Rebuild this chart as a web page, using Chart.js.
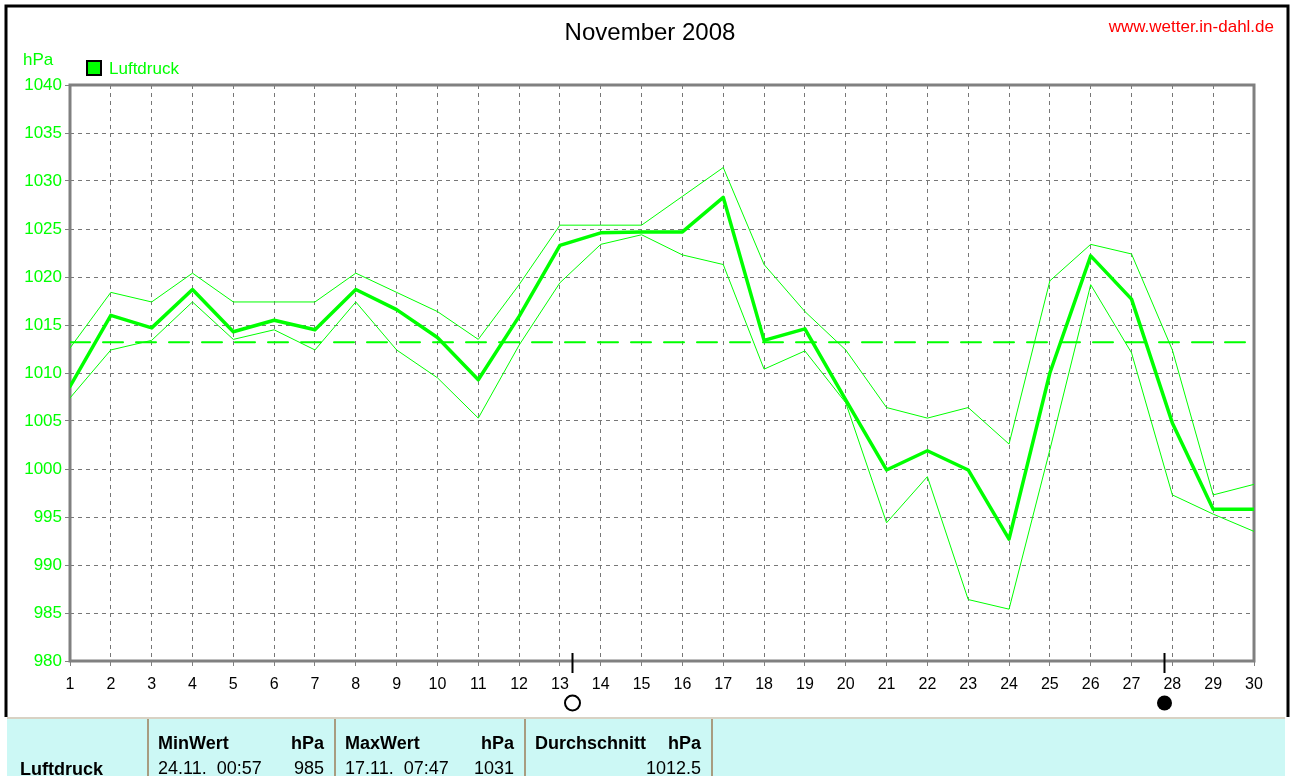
<!DOCTYPE html>
<html>
<head>
<meta charset="utf-8">
<title>Luftdruck November 2008</title>
<script src="https://cdn.jsdelivr.net/npm/chart.js@4.4.1/dist/chart.umd.min.js"></script>
<style>
html, body { margin: 0; padding: 0; background: #fff; }
canvas { display: block; }
</style>
</head>
<body>
<canvas id="myChart" width="1293" height="776"></canvas>
<script>
// Tage im November 2008
var days = [1, 2, 3, 4, 5, 6, 7, 8, 9, 10, 11, 12, 13, 14, 15, 16, 17, 18, 19, 20, 21, 22, 23, 24, 25, 26, 27, 28, 29, 30];
// Tagesmittel, Tagesmaximum, Tagesminimum (hPa)
var meanValues = [1008.6, 1016.0, 1014.7, 1018.7, 1014.3, 1015.5, 1014.5, 1018.7, 1016.6, 1013.7, 1009.3, 1015.9, 1023.3, 1024.6, 1024.7, 1024.7, 1028.3, 1013.4, 1014.6, 1007.2, 999.9, 1001.9, 999.9, 992.7, 1010.0, 1022.2, 1017.7, 1004.8, 995.8, 995.8];
var maxValues = [1012.6, 1018.4, 1017.4, 1020.4, 1017.4, 1017.4, 1017.4, 1020.4, 1018.4, 1016.4, 1013.5, 1019.2, 1025.4, 1025.4, 1025.4, 1028.4, 1031.4, 1021.3, 1016.4, 1012.4, 1006.4, 1005.3, 1006.4, 1002.6, 1019.6, 1023.4, 1022.4, 1012.4, 997.3, 998.4];
var minValues = [1007.4, 1012.4, 1013.4, 1017.4, 1013.5, 1014.5, 1012.4, 1017.4, 1012.4, 1009.5, 1005.3, 1012.9, 1019.4, 1023.4, 1024.4, 1022.3, 1021.3, 1010.4, 1012.3, 1006.9, 994.4, 999.2, 986.4, 985.4, 1002.0, 1019.2, 1012.1, 997.3, 995.3, 993.5];
var avgLevel = 1013.2;
// Mondphasen (Tag mit Bruchteil)
var moonDays = [13.3, 27.8];
var moonTypes = ["voll", "neu"];
// Y-Achse
var yMin = 980, yMax = 1040, yStep = 5;
// Statistik-Tabelle
var statHead = ["MinWert", "MaxWert", "Durchschnitt"];
var statWhen = ["24.11.  00:57", "17.11.  07:47", ""];
var statVal = ["985", "1031", "1012.5"];

var green = "#00ff00";
var gray = "#808080";
var fnt = "'Liberation Sans', Arial, sans-serif";

function pts(arr) {
    return arr.map(function (v, i) { return { x: days[i], y: v }; });
}

var decoPlugin = {
    id: "deco",
    beforeDatasetsDraw: function (chart) {
        var ctx = chart.ctx, a = chart.chartArea;
        ctx.save();
        ctx.strokeStyle = gray;
        ctx.lineWidth = 3;
        ctx.strokeRect(a.left, a.top, a.right - a.left, a.bottom - a.top);
        ctx.restore();
    },
    afterDraw: function (chart) {
        var ctx = chart.ctx, a = chart.chartArea;
        var xs = chart.scales.x;
        ctx.save();

        // Rahmen
        ctx.strokeStyle = "#000";
        ctx.lineWidth = 3;
        ctx.beginPath();
        ctx.moveTo(6, 717);
        ctx.lineTo(6, 6);
        ctx.lineTo(1288, 6);
        ctx.lineTo(1288, 717);
        ctx.stroke();

        // Titel
        ctx.fillStyle = "#000";
        ctx.font = "24px " + fnt;
        ctx.textAlign = "center";
        ctx.textBaseline = "alphabetic";
        ctx.fillText("November 2008", 650, 40);

        ctx.fillStyle = "#ff0000";
        ctx.font = "17px " + fnt;
        ctx.textAlign = "right";
        ctx.fillText("www.wetter.in-dahl.de", 1274, 32);

        // Einheit und Legende
        ctx.fillStyle = green;
        ctx.textAlign = "left";
        ctx.fillText("hPa", 23, 65);
        ctx.fillText("Luftdruck", 109, 74);
        ctx.fillRect(87, 61, 14, 14);
        ctx.strokeStyle = "#000";
        ctx.lineWidth = 2;
        ctx.strokeRect(87, 61, 14, 14);

        // Mondphasen
        for (var i = 0; i < moonDays.length; i++) {
            var mx = Math.round(xs.getPixelForValue(moonDays[i])) + 0.5;
            ctx.strokeStyle = "#000";
            ctx.lineWidth = 2;
            ctx.beginPath();
            ctx.moveTo(mx, a.bottom - 8);
            ctx.lineTo(mx, a.bottom + 12);
            ctx.stroke();
            ctx.beginPath();
            ctx.arc(mx, a.bottom + 42, 7.5, 0, Math.PI * 2);
            if (moonTypes[i] == "neu") {
                ctx.fillStyle = "#000";
                ctx.fill();
            } else {
                ctx.stroke();
            }
        }

        // Tabelle
        ctx.fillStyle = "#ccf8f5";
        ctx.fillRect(7, 718, 1278, 58);
        ctx.fillStyle = "#d8d2c4";
        ctx.fillRect(7, 717, 1278, 2);
        var seps = [148, 335, 525, 712];
        ctx.fillStyle = "#a89c80";
        seps.forEach(function (sx) { ctx.fillRect(sx - 1, 719, 2, 57); });

        ctx.fillStyle = "#000";
        ctx.font = "bold 18px " + fnt;
        ctx.textAlign = "left";
        ctx.fillText("Luftdruck", 20, 775);
        for (var j = 0; j < statHead.length; j++) {
            var lx = seps[j] + 10, rx = seps[j + 1] - 11;
            ctx.font = "bold 18px " + fnt;
            ctx.textAlign = "left";
            ctx.fillText(statHead[j], lx, 749);
            ctx.textAlign = "right";
            ctx.fillText("hPa", rx, 749);
            ctx.font = "18px " + fnt;
            ctx.textAlign = "left";
            ctx.fillText(statWhen[j], lx, 774);
            ctx.textAlign = "right";
            ctx.fillText(statVal[j], rx, 774);
        }
        ctx.restore();
    }
};

new Chart("myChart", {
    type: "line",
    data: {
        datasets: [{
            data: [{ x: days[0], y: avgLevel }, { x: days[days.length - 1], y: avgLevel }],
            borderColor: green,
            borderWidth: 2,
            borderDash: [20, 13]
        }, {
            data: pts(minValues),
            borderColor: green,
            borderWidth: 1
        }, {
            data: pts(maxValues),
            borderColor: green,
            borderWidth: 1
        }, {
            data: pts(meanValues),
            borderColor: green,
            borderWidth: 3.5
        }]
    },
    options: {
        responsive: false,
        animation: false,
        events: [],
        layout: { padding: { top: 85, right: 39, left: 0, bottom: 0 } },
        elements: {
            point: { radius: 0 },
            line: { tension: 0, fill: false, borderCapStyle: "round", borderJoinStyle: "round" }
        },
        plugins: {
            legend: { display: false },
            tooltip: { enabled: false }
        },
        scales: {
            x: {
                type: "linear",
                min: 1,
                max: 30,
                afterFit: function (s) { s.height = 115; },
                border: { display: false, dash: [4, 4] },
                grid: { color: "#777", lineWidth: 1, tickLength: 5, tickColor: gray },
                ticks: {
                    stepSize: 1,
                    autoSkip: false,
                    maxRotation: 0,
                    padding: 9,
                    color: "#000",
                    font: { family: fnt, size: 16 },
                    callback: function (v) { return String(v); }
                }
            },
            y: {
                min: yMin,
                max: yMax,
                afterFit: function (s) { s.width = 70; },
                border: { display: false, dash: [4, 4] },
                grid: { color: "#777", lineWidth: 1, tickLength: 5, tickColor: gray },
                ticks: {
                    stepSize: yStep,
                    padding: 3,
                    color: green,
                    font: { family: fnt, size: 17 },
                    callback: function (v) { return String(v); }
                }
            }
        }
    },
    plugins: [decoPlugin]
});
</script>
</body>
</html>
